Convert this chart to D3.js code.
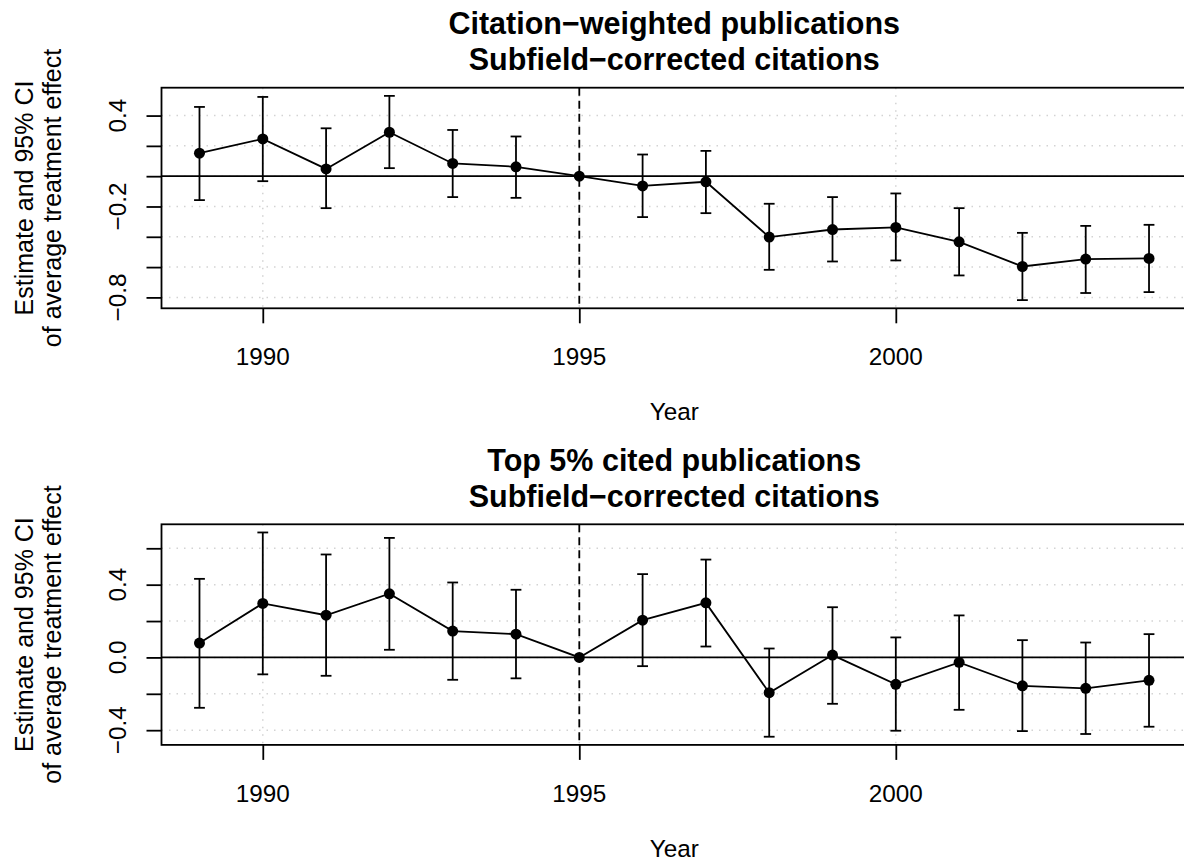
<!DOCTYPE html>
<html>
<head>
<meta charset="utf-8">
<script src="https://cdn.jsdelivr.net/npm/d3@7"></script>
<style>
  body { margin: 0; background: #fff; }
  svg { display: block; font-family: "Liberation Sans", Arial, Helvetica, sans-serif; }
</style>
</head>
<body>
<div id="chart"></div>
<script>
// years on the x axis
const years = [1989, 1990, 1991, 1992, 1993, 1994, 1995, 1996, 1997, 1998, 1999, 2000, 2001, 2002, 2003, 2004];
const xTicks = [1990, 1995, 2000];
const refYear = 1995;

// panel 1: citation-weighted publications
const citeEst = [0.152, 0.246, 0.048, 0.290, 0.084, 0.062, 0, -0.064, -0.037, -0.402, -0.352, -0.338, -0.433, -0.596, -0.547, -0.543];
const citeLo  = [-0.158, -0.033, -0.211, 0.053, -0.138, -0.143, 0, -0.270, -0.244, -0.618, -0.563, -0.556, -0.655, -0.818, -0.771, -0.765];
const citeHi  = [0.457, 0.523, 0.316, 0.530, 0.305, 0.262, 0, 0.143, 0.167, -0.182, -0.138, -0.114, -0.211, -0.374, -0.328, -0.321];
const citeTicks = [-0.8, -0.6, -0.4, -0.2, 0, 0.2, 0.4];
const citeLabelled = [0.4, -0.2, -0.8];

// panel 2: top 5% cited publications
const top5Est = [0.079, 0.297, 0.232, 0.350, 0.145, 0.128, 0, 0.205, 0.300, -0.194, 0.013, -0.148, -0.027, -0.156, -0.170, -0.126];
const top5Lo  = [-0.277, -0.093, -0.101, 0.042, -0.123, -0.115, 0, -0.048, 0.060, -0.436, -0.255, -0.403, -0.288, -0.405, -0.421, -0.381];
const top5Hi  = [0.432, 0.687, 0.566, 0.657, 0.412, 0.372, 0, 0.458, 0.538, 0.049, 0.276, 0.110, 0.231, 0.095, 0.082, 0.128];
const top5Ticks = [-0.4, -0.2, 0, 0.2, 0.4, 0.6];
const top5Labelled = [0.4, 0, -0.4];

const titles = [
  ["Citation\u2212weighted publications", "Subfield\u2212corrected citations"],
  ["Top 5% cited publications", "Subfield\u2212corrected citations"]
];
const xLabel = "Year";
const yLabel = ["Estimate and 95% CI", "of average treatment effect"];

const width = 1184, height = 867;
const box = {left: 161.5, right: 1187, top: 87.7, bottom: 308.3};
const panelOffset = [0, 436.6];
const lw = 1.8;

const svg = d3.select("#chart").append("svg")
    .attr("width", width)
    .attr("height", height);

// R-style 4% padding of the data range
function padded(ext) {
  const d = (ext[1] - ext[0]) * 0.04;
  return [ext[0] - d, ext[1] + d];
}

const x = d3.scaleLinear()
    .domain(padded(d3.extent(years)))
    .range([box.left, box.right]);

function drawPanel(i, est, lo, hi, yTicks, labelled) {
  const g = svg.append("g").attr("transform", `translate(0, ${panelOffset[i]})`);

  const y = d3.scaleLinear()
      .domain(padded([d3.min(lo), d3.max(hi)]))
      .range([box.bottom, box.top]);

  // grid
  g.selectAll(".hgrid").data(yTicks).join("line")
      .attr("x1", box.left).attr("x2", box.right)
      .attr("y1", d => y(d)).attr("y2", d => y(d))
      .attr("stroke", "#d3d3d3").attr("stroke-width", 1.5)
      .attr("stroke-dasharray", "1.5,6");
  g.selectAll(".vgrid").data(xTicks).join("line")
      .attr("x1", d => x(d)).attr("x2", d => x(d))
      .attr("y1", box.top).attr("y2", box.bottom)
      .attr("stroke", "#d3d3d3").attr("stroke-width", 1.5)
      .attr("stroke-dasharray", "1.5,6");

  // reference lines
  g.append("line")
      .attr("x1", box.left).attr("x2", box.right)
      .attr("y1", y(0)).attr("y2", y(0))
      .attr("stroke", "#000").attr("stroke-width", lw);
  g.append("line")
      .attr("x1", x(refYear)).attr("x2", x(refYear))
      .attr("y1", box.top).attr("y2", box.bottom)
      .attr("stroke", "#000").attr("stroke-width", lw)
      .attr("stroke-dasharray", "8,5");

  // box
  g.append("rect")
      .attr("x", box.left).attr("y", box.top)
      .attr("width", box.right - box.left).attr("height", box.bottom - box.top)
      .attr("fill", "none").attr("stroke", "#000").attr("stroke-width", lw);

  // axes
  const xAxis = g.append("g")
      .attr("transform", `translate(0, ${box.bottom})`)
      .call(d3.axisBottom(x).tickValues(xTicks).tickSize(15).tickFormat(""));
  const yAxis = g.append("g")
      .attr("transform", `translate(${box.left}, 0)`)
      .call(d3.axisLeft(y).tickValues(yTicks).tickSize(15).tickFormat(""));
  [xAxis, yAxis].forEach(a => {
    a.select(".domain").remove();
    a.selectAll(".tick line").attr("stroke", "#000").attr("stroke-width", lw);
  });

  g.selectAll(".xlab").data(xTicks).join("text")
      .attr("x", d => x(d)).attr("y", 365)
      .attr("text-anchor", "middle")
      .attr("font-size", 24.3)
      .text(d => d);

  const fmt = d3.format(".1f");
  g.selectAll(".ylab").data(labelled).join("text")
      .attr("transform", d => `translate(125.5, ${y(d)}) rotate(-90)`)
      .attr("text-anchor", "middle")
      .attr("font-size", 24.3)
      .text(d => fmt(d));

  // titles and axis labels
  const cx = (box.left + box.right) / 2;
  titles[i].forEach((t, k) => {
    g.append("text")
        .attr("x", cx).attr("y", 34 + k * 36)
        .attr("text-anchor", "middle")
        .attr("font-size", 30.5).attr("font-weight", "bold")
        .text(t);
  });
  g.append("text")
      .attr("x", cx).attr("y", 420)
      .attr("text-anchor", "middle")
      .attr("font-size", 24.3)
      .text(xLabel);
  const cy = (box.top + box.bottom) / 2;
  yLabel.forEach((t, k) => {
    g.append("text")
        .attr("transform", `translate(${33 + k * 28}, ${cy}) rotate(-90)`)
        .attr("text-anchor", "middle")
        .attr("font-size", 25)
        .text(t);
  });

  // confidence intervals
  const ci = years.map((yr, j) => ({yr, lo: lo[j], hi: hi[j]})).filter(d => d.hi > d.lo);
  const cap = 5.4;
  g.selectAll(".ci").data(ci).join("line")
      .attr("x1", d => x(d.yr)).attr("x2", d => x(d.yr))
      .attr("y1", d => y(d.lo)).attr("y2", d => y(d.hi))
      .attr("stroke", "#000").attr("stroke-width", lw);
  g.selectAll(".capHi").data(ci).join("line")
      .attr("x1", d => x(d.yr) - cap).attr("x2", d => x(d.yr) + cap)
      .attr("y1", d => y(d.hi)).attr("y2", d => y(d.hi))
      .attr("stroke", "#000").attr("stroke-width", lw);
  g.selectAll(".capLo").data(ci).join("line")
      .attr("x1", d => x(d.yr) - cap).attr("x2", d => x(d.yr) + cap)
      .attr("y1", d => y(d.lo)).attr("y2", d => y(d.lo))
      .attr("stroke", "#000").attr("stroke-width", lw);

  // estimates
  const pts = years.map((yr, j) => ({yr, v: est[j]}));
  const line = d3.line().x(d => x(d.yr)).y(d => y(d.v));
  g.append("path")
      .datum(pts)
      .attr("fill", "none")
      .attr("stroke", "#000")
      .attr("stroke-width", lw)
      .attr("d", line);
  g.selectAll(".pt").data(pts).join("circle")
      .attr("cx", d => x(d.yr)).attr("cy", d => y(d.v))
      .attr("r", 5.5)
      .attr("fill", "#000");
}

drawPanel(0, citeEst, citeLo, citeHi, citeTicks, citeLabelled);
drawPanel(1, top5Est, top5Lo, top5Hi, top5Ticks, top5Labelled);
</script>
</body>
</html>
